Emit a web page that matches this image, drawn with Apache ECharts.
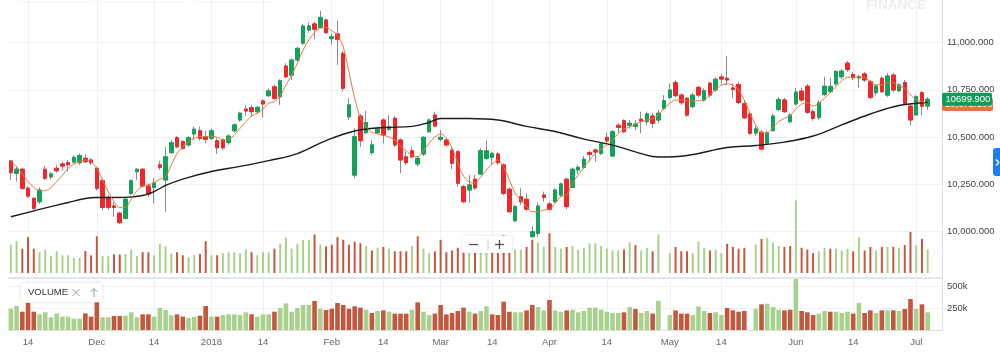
<!DOCTYPE html>
<html>
<head>
<meta charset="utf-8">
<script src="https://cdn.jsdelivr.net/npm/echarts@6/dist/echarts.min.js"></script>
<style>
  html, body { margin: 0; padding: 0; background: #fff; }
  #chart { width: 1000px; height: 354px; }
</style>
</head>
<body>
<div id="chart"></div>
<script>
// daily candles
const opens = [10373,10307,10329,10228,10175,10157,10329,10289,10334,10357,10364,10367,10364,10387,10378,10334,10268,10180,10134,10096,
  10069,10201,10316,10329,10240,10232,10352,10272,10417,10496,10475,10458,10516,10533,10501,10493,10480,10484,10470,10533,
  10590,10648,10655,10634,10691,10719,10766,10713,10876,10828,10908,10997,11067,11099,11081,11120,11021,11046,10943,10607,
  10298,10611,10523,10417,10523,10590,10541,10599,10484,10395,10427,10357,10410,10528,10616,10488,10484,10431,10422,10237,
  10219,10276,10304,10387,10392,10410,10352,10223,10056,10183,10170,9972,9989,10192,10145,10157,10192,10276,10233,10325,
  10339,10417,10431,10413,10498,10399,10562,10586,10562,10556,10594,10581,10611,10590,10652,10710,10788,10722,10705,10661,
  10763,10696,10785,10749,10818,10811,10760,10778,10676,10622,10521,10525,10467,10535,10645,10696,10581,10675,10743,10769,
  10634,10603,10725,10740,10782,10819,10891,10831,10813,10834,10793,10735,10811,10722,10828,10745,10788,10664,10617,10735,
  10664];
const closes = [10311,10329,10228,10187,10122,10219,10281,10304,10321,10346,10353,10392,10401,10369,10364,10228,10127,10127,10127,10046,
  10170,10268,10329,10240,10198,10256,10339,10395,10470,10448,10440,10496,10541,10493,10488,10533,10443,10443,10505,10564,
  10626,10638,10634,10657,10675,10744,10705,10798,10819,10908,10970,11088,11088,11071,11134,11053,11031,11018,10758,10670,
  10501,10480,10576,10458,10541,10510,10555,10458,10378,10364,10395,10387,10498,10590,10558,10498,10458,10361,10255,10157,
  10246,10230,10427,10427,10413,10364,10201,10104,10131,10157,10117,9998,10134,10180,10117,10219,10251,10131,10329,10339,
  10382,10408,10420,10463,10480,10528,10551,10528,10573,10569,10585,10622,10573,10626,10692,10749,10719,10682,10616,10722,
  10722,10745,10722,10806,10807,10802,10752,10683,10602,10520,10543,10436,10521,10611,10699,10634,10616,10738,10696,10631,
  10599,10682,10769,10768,10847,10849,10857,10814,10819,10802,10710,10770,10740,10823,10749,10776,10679,10590,10713,10663,
  10699.9];
const lows = [10272,10263,10219,10175,10109,10145,10272,10276,10311,10321,10316,10361,10352,10361,10352,10215,10113,10113,10077,10039,
  10064,10192,10272,10233,10183,10149,10325,10102,10410,10440,10431,10448,10484,10480,10467,10484,10410,10431,10458,10523,
  10581,10611,10607,10622,10604,10710,10696,10670,10811,10802,10899,10988,11053,11018,11076,11046,10988,10882,10740,10590,
  10281,10448,10516,10404,10516,10467,10533,10448,10307,10352,10387,10343,10399,10523,10551,10475,10448,10329,10237,10149,
  10152,10219,10299,10378,10352,10352,10192,10096,10051,10140,10109,9963,9972,10157,10109,10152,10183,10117,10228,10304,
  10329,10369,10369,10404,10467,10395,10523,10519,10546,10537,10519,10563,10546,10573,10643,10700,10710,10670,10607,10652,
  10710,10687,10710,10740,10784,10776,10705,10675,10595,10510,10505,10426,10458,10526,10638,10627,10574,10667,10685,10622,
  10585,10590,10717,10733,10770,10807,10844,10802,10760,10791,10701,10722,10733,10712,10738,10738,10670,10563,10611,10616,
  10643];
const highs = [10376,10343,10337,10240,10180,10233,10346,10314,10352,10369,10378,10404,10413,10408,10387,10343,10279,10192,10152,10104,
  10180,10276,10334,10334,10255,10281,10374,10448,10484,10505,10484,10505,10555,10555,10533,10546,10493,10493,10514,10573,
  10634,10670,10670,10664,10700,10758,10776,10806,10891,10917,10978,11099,11106,11111,11169,11129,11049,11116,10957,10705,
  10546,10622,10639,10484,10555,10599,10616,10611,10493,10422,10448,10399,10505,10599,10634,10537,10493,10440,10431,10246,
  10299,10299,10440,10480,10422,10422,10361,10233,10140,10228,10201,10028,10152,10210,10157,10228,10258,10286,10339,10352,
  10399,10427,10440,10470,10523,10537,10573,10594,10590,10590,10634,10634,10626,10643,10722,10784,10802,10732,10713,10732,
  10770,10758,10793,10816,10834,10929,10784,10791,10691,10632,10558,10537,10532,10622,10712,10707,10627,10760,10760,10781,
  10648,10696,10820,10813,10855,10860,10903,10844,10829,10844,10802,10781,10823,10839,10839,10786,10802,10675,10722,10744,
  10712];

// short moving average (orange), one value per candle
const maShort = [10373,10342,10304,10263,10233,10215,10215,10233,10263,10298,
  10334,10357,10369,10378,10369,10334,10272,10210,10157,10127,
  10127,10170,10215,10240,10246,10258,10276,10290,10352,10413,
  10449,10475,10493,10502,10502,10505,10498,10484,10488,10510,
  10546,10581,10611,10626,10647,10679,10687,10717,10776,10828,
  10891,10961,11014,11053,11076,11081,11063,11040,10979,10846,
  10705,10601,10553,10526,10516,10510,10500,10484,10452,10426,
  10404,10395,10426,10468,10500,10516,10495,10442,10362,10293,
  10261,10256,10288,10325,10357,10378,10341,10272,10203,10166,
  10131,10104,10104,10113,10117,10149,10184,10192,10255,10298,
  10339,10378,10413,10435,10458,10484,10519,10541,10554,10569,
  10581,10590,10598,10617,10652,10679,10696,10696,10692,10691,
  10692,10696,10723,10749,10776,10781,10776,10749,10696,10626,
  10564,10523,10523,10551,10581,10599,10614,10648,10675,10682,
  10664,10679,10705,10735,10766,10798,10816,10816,10819,10816,
  10793,10776,10776,10788,10788,10770,10758,10723,10696,10687,
  10672.1];

// long moving average (black), read at a few candles
const maLongIdx = [0,5,10,13,15,20,23,25,27,30,35,40,45,50,55,60,65,70,73,75,80,85,90,95,100,105,110,113,118,125,130,135,140,145,150,155,160];
const maLongVal = [10077,10116,10153,10174,10179,10180,10190,10211,10243,10277,10317,10344,10375,10412,10481,10532,10550,10556,10577,10598,
  10598,10590,10556,10529,10489,10457,10412,10394,10402,10444,10455,10473,10505,10564,10622,10667,10683];

// volume in thousands, null = no bar; volUp 1 = green, 0 = red
const volumeK = [242,273,208,307,208,178,201,144,186,152,152,129,129,189,152,314,144,144,159,159,
  163,201,144,178,178,152,250,227,167,178,152,136,152,163,273,152,152,170,178,178,
  170,201,178,152,178,178,208,250,303,208,250,284,284,330,242,227,242,307,284,242,
  269,254,231,193,216,223,208,186,186,186,231,314,208,170,186,284,178,193,216,254,
  208,186,216,269,178,170,322,208,201,201,223,284,261,223,341,223,208,223,231,201,
  216,254,254,231,208,193,193,201,261,239,193,216,186,330,null,170,223,186,186,170,
  269,216,193,201,170,250,223,208,216,null,242,292,299,261,231,223,231,621,216,201,
  170,186,216,208,208,193,208,186,307,193,223,193,223,223,223,216,239,352,239,292,
  201];
const volUp = [1,1,0,0,0,1,1,1,1,1, 1,1,1,0,0,0,1,1,0,0, 1,1,1,0,0,1,1,1,1,0, 0,1,1,0,0,1,0,1,1,1,
  1,1,0,1,1,1,0,1,1,1, 1,1,1,0,1,0,0,0,0,0, 0,0,1,0,1,0,1,0,0,0, 1,0,1,1,0,0,0,0,0,0,
  1,0,1,1,0,0,0,0,1,1, 0,0,1,1,0,1,1,0,1,1, 1,1,1,1,1,1,1,0,1,0, 1,1,0,1,0,1,0,0,0,1,
  1,1,0,1,1,0,0,0,0,0, 1,0,1,1,1,0,0,1,0,0, 0,1,1,0,1,1,1,0,1,0, 0,1,0,1,0,1,0,0,1,0,1];

// x tick labels (slot index -> text)
const tickIdx = [3,15,25,35,44,56,65,75,84,94,104,115,124,137,147,158];
const tickText = ['14','Dec','14','2018','14','Feb','14','Mar','14','Apr','14','May','14','Jun','14','Jul'];

const SLOTS = 163; // two empty slots after the last candle
const slots = [];
for (let i = 0; i < SLOTS; i++) slots.push(String(i));

const UP = '#11a35c', DOWN = '#f1262c', WICK = '#8c8c8c';
const VUP = '#a9d18e', VDOWN = '#c4573f';
const FONT = '"Liberation Sans", Arial, sans-serif';

const candles = opens.map((o, i) => [o, closes[i], lows[i], highs[i]]);
const bodies = opens.map((o, i) => [o, closes[i], Math.min(o, closes[i]), Math.max(o, closes[i])]);
const vols = volumeK.map((v, i) => v == null ? '-' : { value: v, itemStyle: { color: volUp[i] ? VUP : VDOWN } });
const maLong = maLongIdx.map((x, i) => [x, maLongVal[i]]);

const isTick = (idx) => tickIdx.indexOf(idx) >= 0;
const gridLine = { show: true, interval: isTick, alignWithLabel: true, lineStyle: { color: '#f0f0f0', width: 1 } };

const chart = echarts.init(document.getElementById('chart'));

chart.setOption({
  animation: false,
  backgroundColor: '#fff',
  grid: [
    { left: 8, right: 58, top: 0, height: 278.5 },
    { left: 8, right: 58, top: 200, height: 73 },
    { left: 8, right: 58, top: 278, height: 52 }
  ],
  xAxis: [
    { type: 'category', gridIndex: 0, data: slots, boundaryGap: true,
      axisLine: { show: false }, axisTick: { show: false }, axisLabel: { show: false },
      splitLine: gridLine },
    { type: 'category', gridIndex: 1, data: slots, boundaryGap: true, show: false },
    { type: 'category', gridIndex: 2, data: slots, boundaryGap: true,
      axisLine: { show: true, lineStyle: { color: '#dcdcdc' } },
      axisTick: { show: false },
      axisLabel: {
        interval: isTick, margin: 7, color: '#666', fontSize: 9.5, fontFamily: FONT,
        formatter: (v, idx) => { const k = tickIdx.indexOf(idx); return k >= 0 ? tickText[k] : ''; }
      },
      splitLine: gridLine }
  ],
  yAxis: [
    { type: 'value', gridIndex: 0, position: 'right', min: 9750, max: 11226, interval: 250,
      axisLine: { show: true, lineStyle: { color: '#dcdcdc' } }, axisTick: { show: false },
      axisLabel: {
        margin: 5, color: '#444', fontSize: 9.5, fontFamily: FONT,
        formatter: v => (v % 250 === 0 && v >= 10000 && v <= 11000)
          ? v.toLocaleString('en-US', { minimumFractionDigits: 3, maximumFractionDigits: 3 }) : ''
      },
      splitLine: { show: true, showMaxLine: false, lineStyle: { color: '#f0f0f0' } } },
    { type: 'value', gridIndex: 1, min: 0, max: 625, show: false },
    { type: 'value', gridIndex: 2, position: 'right', min: 0, max: 591, interval: 250,
      axisLine: { show: true, lineStyle: { color: '#dcdcdc' } }, axisTick: { show: false },
      axisLabel: {
        margin: 5, color: '#444', fontSize: 9.5, fontFamily: FONT,
        formatter: v => (v > 0 && v % 250 === 0) ? v + 'k' : ''
      },
      splitLine: { show: true, showMaxLine: false, lineStyle: { color: '#f2f2f2' } } }
  ],
  series: [
    { name: 'wick', type: 'candlestick', xAxisIndex: 0, yAxisIndex: 0, data: candles, barWidth: 4,
      itemStyle: { color: WICK, color0: WICK, borderColor: WICK, borderColor0: WICK, borderWidth: 1 } },
    { name: 'body', type: 'candlestick', xAxisIndex: 0, yAxisIndex: 0, data: bodies, barWidth: 4,
      itemStyle: { color: UP, color0: DOWN, borderColor: UP, borderColor0: DOWN, borderWidth: 1 } },
    { name: 'ma long', type: 'line', xAxisIndex: 0, yAxisIndex: 0, data: maLong, smooth: 0.4,
      showSymbol: false, lineStyle: { color: '#1c1c1c', width: 1.4 } },
    { name: 'ma short', type: 'line', xAxisIndex: 0, yAxisIndex: 0, data: maShort, smooth: 0.3,
      showSymbol: false, lineStyle: { color: '#e27a3f', width: 1 } },
    { name: 'vol overlay', type: 'bar', xAxisIndex: 1, yAxisIndex: 1, data: vols, barWidth: 2 },
    { name: 'volume', type: 'bar', xAxisIndex: 2, yAxisIndex: 2, data: vols, barWidth: 4.6 }
  ]
});

// overlays: price tags on the right axis, pane separator, small controls
const lastClose = closes[closes.length - 1];
const lastMa = maShort[maShort.length - 1];
const yClose = chart.convertToPixel({ yAxisIndex: 0 }, lastClose);
const yMa = chart.convertToPixel({ yAxisIndex: 0 }, lastMa);
const txt = (text, x, y, fill, size, extra) => Object.assign({
  type: 'text', z: 100,
  style: { text: text, x: x, y: y, fill: fill, font: size + 'px ' + FONT,
    textVerticalAlign: 'middle', verticalAlign: 'middle' }
}, extra || {});
const ln = (x1, y1, x2, y2, c, w) => ({ type: 'line', z: 100,
  shape: { x1: x1, y1: y1, x2: x2, y2: y2 }, style: { stroke: c, lineWidth: w } });

chart.setOption({
  graphic: [
    // faint toolbar shadows at the top edge
    { type: 'rect', z: 90, shape: { x: 19, y: -20, width: 74, height: 21.5, r: 3 },
      style: { fill: '#fff', shadowBlur: 3, shadowColor: 'rgba(0,0,0,0.10)' } },
    { type: 'rect', z: 90, shape: { x: 100, y: -20, width: 85, height: 21.5, r: 3 },
      style: { fill: '#fff', shadowBlur: 3, shadowColor: 'rgba(0,0,0,0.10)' } },
    { type: 'rect', z: 90, shape: { x: 193, y: -20, width: 81, height: 21.5, r: 3 },
      style: { fill: '#fff', shadowBlur: 3, shadowColor: 'rgba(0,0,0,0.10)' } },
    // watermark
    { type: 'text', z: 1, style: { text: 'FINANCE', x: 866, y: -1.5, fill: '#ededed',
      font: 'bold 13.5px ' + FONT, textVerticalAlign: 'top', verticalAlign: 'top' } },
    // pane separator
    { type: 'rect', z: 50, shape: { x: 8, y: 277, width: 934, height: 2 }, style: { fill: '#e3e6ea' } },
    // VOLUME legend
    { type: 'rect', z: 99, shape: { x: 21, y: 283, width: 81, height: 19, r: 2 },
      style: { fill: '#fff', shadowBlur: 3, shadowColor: 'rgba(0,0,0,0.18)' } },
    txt('VOLUME', 28, 292.7, '#333', 9.5),
    ln(72.5, 289, 79.5, 296, '#9a9a9a', 1), ln(79.5, 289, 72.5, 296, '#9a9a9a', 1),
    ln(94, 288.5, 94, 297, '#9a9a9a', 1), ln(90.5, 292, 94, 288.5, '#9a9a9a', 1), ln(97.5, 292, 94, 288.5, '#9a9a9a', 1),
    // zoom buttons
    { type: 'rect', z: 99, shape: { x: 462, y: 236, width: 50, height: 17, r: 2 },
      style: { fill: '#fff', shadowBlur: 3, shadowColor: 'rgba(0,0,0,0.15)' } },
    ln(469, 244.5, 478, 244.5, '#555', 1.3),
    ln(488, 239, 488, 250, '#cfcfcf', 1),
    ln(495, 244.5, 504, 244.5, '#555', 1.3), ln(499.5, 240, 499.5, 249, '#555', 1.3),
    // blue side tab
    { type: 'rect', z: 99, shape: { x: 993, y: 148, width: 14, height: 28, r: 3 }, style: { fill: '#1c7cf0' } },
    ln(996, 159.5, 999, 162.5, '#fff', 1.3), ln(999, 162.5, 996, 165.5, '#fff', 1.3),
    // price tags
    { type: 'rect', z: 101, shape: { x: 942, y: yMa - 6.5, width: 51, height: 13, r: 2 }, style: { fill: '#e8743b' } },
    txt(lastMa.toLocaleString('en-US', { minimumFractionDigits: 3, maximumFractionDigits: 3 }), 945, yMa, '#fff', 9.5, { z: 102 }),
    { type: 'rect', z: 103, shape: { x: 942, y: yClose - 6.5, width: 50, height: 13, r: 2 }, style: { fill: '#0f9d58' } },
    txt(lastClose.toFixed(3), 945.5, yClose, '#fff', 9.5, { z: 104 })
  ]
});
</script>
</body>
</html>
